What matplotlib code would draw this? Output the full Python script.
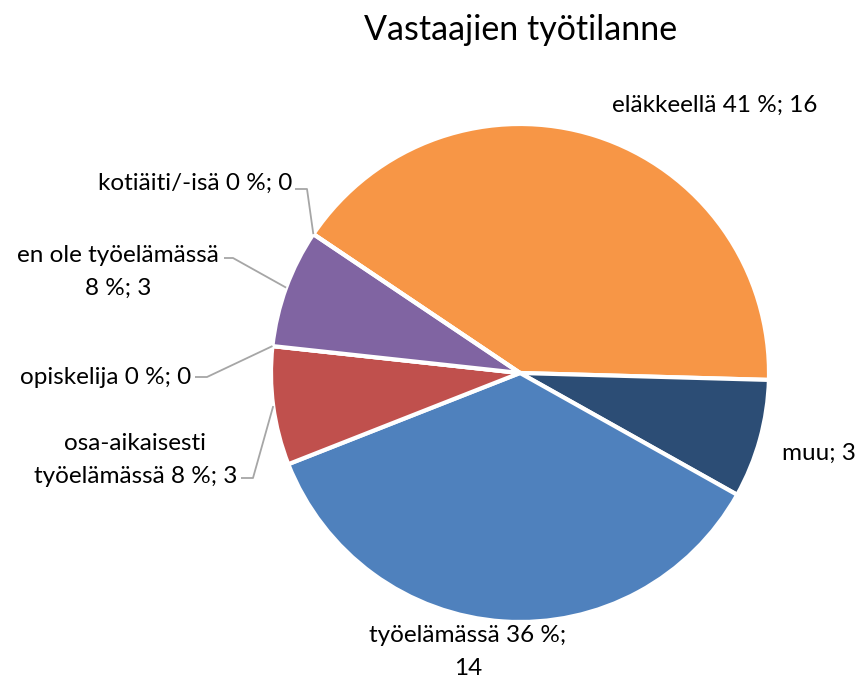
import matplotlib
matplotlib.use("Agg")
import matplotlib.pyplot as plt
import numpy as np

plt.rcParams['font.family'] = ['Lato', 'DejaVu Sans']

title = "Vastaajien työtilanne"
categories = ["eläkkeellä", "muu", "työelämässä", "osa-aikaisesti\ntyöelämässä",
              "opiskelija", "en ole työelämässä\n", "kotiäiti/-isä"]
values = [16, 3, 14, 3, 0, 3, 0]
percents = ["41 %", None, "36 %", "8 %", "0 %", "8 %", "0 %"]
colors = ["#F79646", "#2C4D75", "#4F81BD", "#C0504D", "#9BBB59", "#8064A2", "#4BACC6"]

label_texts = [
    "eläkkeellä 41 %; 16",
    "muu; 3",
    "työelämässä 36 %;\n14",
    "osa-aikaisesti\ntyöelämässä 8 %; 3",
    "opiskelija 0 %; 0",
    "en ole työelämässä\n8 %; 3",
    "kotiäiti/-isä 0 %; 0",
]

W, H = 859, 682
fig = plt.figure(figsize=(W / 100, H / 100), dpi=100)
cx, cy, R = 520, 373, 249
ax = fig.add_axes([(cx - R) / W, (H - cy - R) / H, 2 * R / W, 2 * R / H])

start = 146.1
wedges, _ = ax.pie(values, colors=colors, startangle=start, counterclock=False,
                   radius=1, wedgeprops=dict(edgecolor='white', linewidth=3))
ax.set_xlim(-1, 1)
ax.set_ylim(-1, 1)
ax.set_aspect('equal')
ax.axis('off')

def p2d(px, py):
    return ((px - cx) / R, (cy - py) / R)

# label anchor (pixels), alignment, leader (elbow, text end) or None
label_layout = [
    ((715, 105), 'center', None),
    ((782, 453), 'left', None),
    ((468, 652), 'center', None),
    ((237, 460), 'right', ((253, 478), (241, 478))),
    ((191, 377), 'right', ((207, 377), (195, 377))),
    ((219, 272), 'right', ((233, 258), (224, 258))),
    ((292, 183), 'right', ((307, 189), (295, 189))),
]

cum = 0
total = sum(values)
for i, (txt, (pos, ha, leader)) in enumerate(zip(label_texts, label_layout)):
    mid = start - 360 * (cum + values[i] / 2) / total
    cum += values[i]
    x, y = p2d(*pos)
    ax.text(x, y, txt, ha=ha, va='center', multialignment='center',
            fontsize=17.5, color='black', linespacing=1.65, clip_on=False)
    if leader is not None:
        ax_, ay_ = np.cos(np.radians(mid)), np.sin(np.radians(mid))
        e = p2d(*leader[0])
        t = p2d(*leader[1])
        ax.plot([ax_, e[0], t[0]], [ay_, e[1], t[1]], color='#A6A6A6', lw=1.3,
                solid_capstyle='butt', clip_on=False)

fig.text(521 / W, 1 - 30 / H, title, ha='center', va='center', fontsize=24.5)

fig.savefig("out.png", dpi=100)
